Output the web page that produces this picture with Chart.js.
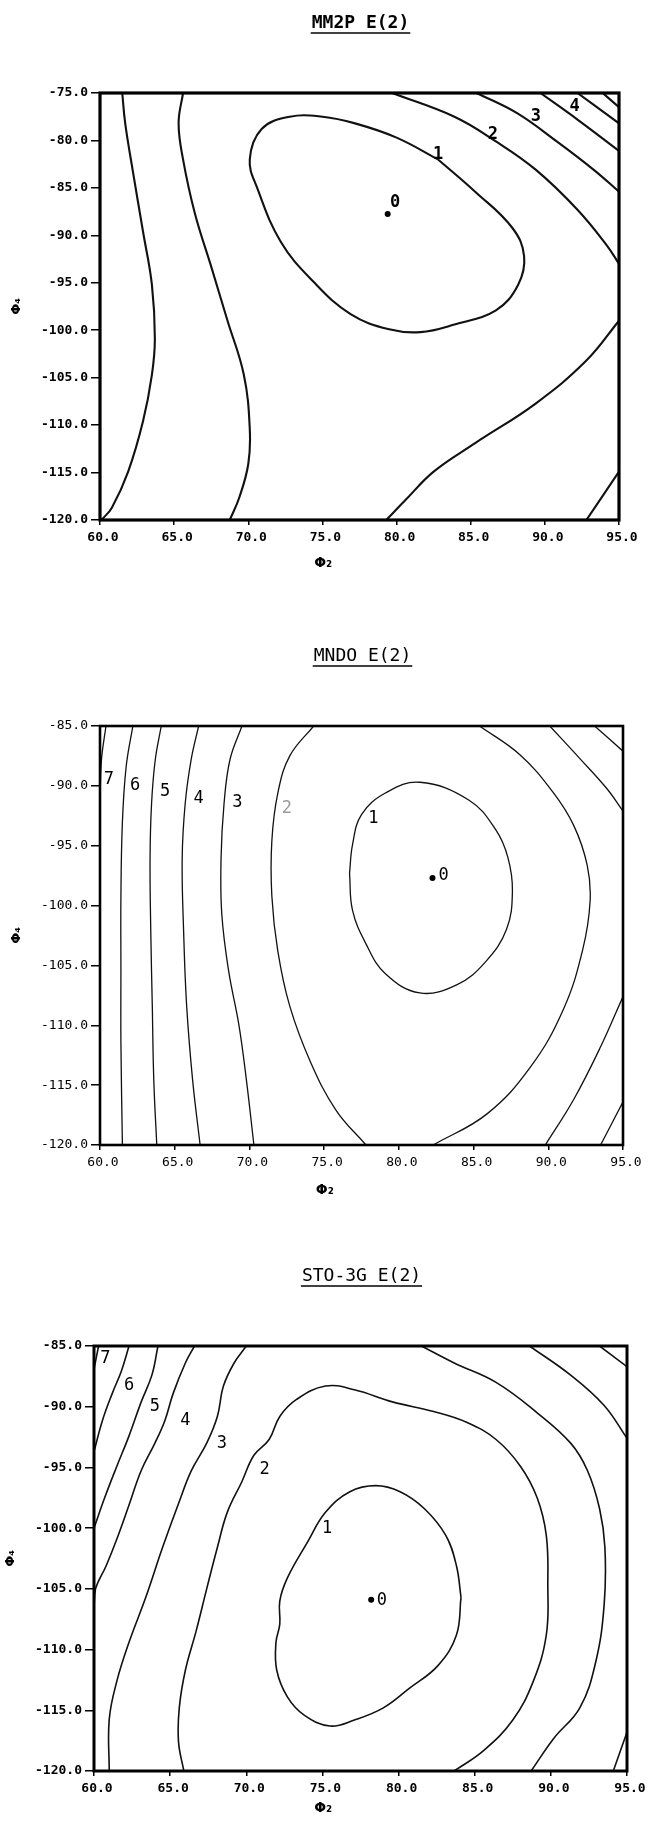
<!DOCTYPE html>
<html>
<head>
<meta charset="utf-8">
<script src="https://cdn.jsdelivr.net/npm/chart.js@4.4.1/dist/chart.umd.min.js"></script>
<style>
body { margin: 0; background: #fff; }
#wrap { position: relative; width: 648px; height: 1822px; }
canvas { position: absolute; left: 0; }
</style>
</head>
<body>
<div id="wrap">
  <canvas id="mm2p" width="648" height="600" style="top:0px"></canvas>
  <canvas id="mndo" width="648" height="610" style="top:600px"></canvas>
  <canvas id="sto" width="648" height="612" style="top:1210px"></canvas>
</div>
<script>
// tick values
const xTicks = [60, 65, 70, 75, 80, 85, 90, 95];
const yTicksMm2p = [-75, -80, -85, -90, -95, -100, -105, -110, -115, -120];
const yTicksLow = [-85, -90, -95, -100, -105, -110, -115, -120];

// MM2P E(2) contours [phi2, phi4]
const mm2p1 = [[82.8,-82.0],[80.0,-79.7],[77.2,-78.2],[75.0,-77.5],[72.8,-77.5],[70.9,-78.8],[70.1,-82.0],[70.6,-85.0],[72.2,-90.7],[74.4,-94.9],[76.9,-98.3],[79.5,-99.9],[81.6,-100.2],[83.9,-99.4],[86.7,-97.9],[88.2,-95.2],[88.6,-92.2],[87.8,-89.2],[85.3,-85.4],[82.8,-82.0]];
const mm2p2a = [[79.7,-75],[83.9,-77.5],[86.7,-80.1],[89.4,-83.1],[92.2,-87.3],[94.2,-91.1],[95,-93.0]];
const mm2p2b = [[95,-99.0],[92.8,-103.2],[89.4,-107.7],[85.3,-111.9],[82.5,-114.9],[80.6,-117.9],[79.3,-120]];
const mm2p3 = [[85.4,-75],[88.1,-77.1],[90.8,-80.1],[93.3,-83.1],[95,-85.4]];
const mm2p4 = [[89.7,-75],[92.2,-77.8],[95,-81.1]];
const mm2p5 = [[92.2,-75],[95,-78.2]];
const mm2p6 = [[93.9,-75],[95,-76.5]];
const mm2pCorner = [[95,-114.9],[92.8,-120]];
const mm2pLeftA = [[61.5,-75],[61.7,-78.2],[62.2,-83.1],[62.9,-89.6],[63.5,-95.2],[63.7,-100.9],[63.5,-104.7],[62.9,-109.6],[61.9,-114.9],[60.8,-118.7],[60.1,-120]];
const mm2pLeftB = [[65.6,-75],[65.3,-78.2],[65.6,-82.0],[66.4,-87.7],[67.5,-93.3],[68.6,-99.0],[69.7,-104.7],[70.1,-110.4],[70.0,-114.1],[69.4,-117.6],[68.75,-120]];
const mm2pMin = [79.4, -87.75];
const mm2pLabels = [['0',79.9,-86.5],['1',82.8,-81.5],['2',86.5,-79.35],['3',89.4,-77.5],['4',92.0,-76.4]];

// MNDO E(2) contours
const mndo1 = [[76.7,-97.3],[76.9,-100.4],[77.8,-103.2],[79.1,-105.7],[81.4,-107.3],[83.9,-106.6],[85.8,-104.7],[87.2,-102.0],[87.6,-98.8],[87.3,-96.0],[86.5,-93.7],[84.7,-91.2],[81.4,-89.7],[79.1,-90.6],[77.5,-92.4],[76.9,-94.9],[76.7,-97.3]];
const mndo2a = [[74.3,-85],[72.7,-87.5],[71.9,-90.6],[71.5,-94.6],[71.5,-99.2],[71.9,-103.8],[72.7,-108.4],[74.1,-113.1],[75.8,-117.1],[77.8,-120]];
const mndo2b = [[85.4,-85],[88.1,-87.4],[90.3,-90.5],[91.7,-93.3],[92.6,-96.6],[92.8,-99.6],[92.3,-103.7],[91.0,-108.7],[88.8,-113.5],[85.9,-117.4],[82.3,-120]];
const mndoTopB = [[90.1,-85],[92.1,-87.7],[93.9,-90.2],[95,-92.1]];
const mndoTopC = [[93.1,-85],[95,-87.1]];
const mndoLowD = [[95,-107.6],[93.5,-111.8],[91.7,-116.2],[89.8,-120]];
const mndoLowE = [[95,-116.4],[93.5,-120]];
const mndo3 = [[69.5,-85],[68.7,-87.8],[68.3,-91.5],[68.1,-96.1],[68.15,-100.7],[68.6,-105.4],[69.3,-110.0],[69.8,-114.6],[70.3,-120]];
const mndo4 = [[66.6,-85],[66.1,-87.8],[65.7,-91.5],[65.5,-96.1],[65.6,-102.3],[65.8,-108.4],[66.2,-114.6],[66.7,-120]];
const mndo5 = [[64.1,-85],[63.7,-87.8],[63.45,-91.5],[63.35,-96.1],[63.4,-102.3],[63.5,-108.4],[63.6,-114.6],[63.8,-120]];
const mndo6 = [[62.2,-85],[61.75,-88.4],[61.5,-93.0],[61.4,-99.2],[61.4,-105.4],[61.4,-111.5],[61.5,-120]];
const mndo7 = [[60.4,-85],[60.1,-87.8],[60.0,-91.3]];
const mndoMin = [82.25, -97.7];
const mndoLabels = [['7',60.6,-89.5],['6',62.35,-90.0],['5',64.35,-90.5],['4',66.6,-91.1],['3',69.2,-91.4],['2',72.5,-91.9],['1',78.3,-92.7],['0',83.0,-97.5]];

// STO-3G E(2) contours
const sto1 = [[84.1,-105.7],[83.8,-108.8],[82.6,-111.3],[80.7,-113.2],[79.0,-114.8],[77.1,-115.8],[75.5,-116.3],[73.8,-115.4],[72.7,-113.9],[72.0,-111.7],[71.95,-109.4],[72.2,-107.9],[72.2,-106.0],[72.7,-104.1],[74.0,-101.2],[75.2,-98.7],[76.8,-97.0],[78.5,-96.5],[80.1,-97.0],[81.7,-98.4],[83.1,-100.6],[83.8,-103.1],[84.1,-105.7]];
const sto2 = [[65.9,-120],[65.55,-117.6],[65.6,-114.8],[66.0,-111.7],[66.7,-108.5],[67.4,-105.0],[68.1,-101.6],[68.75,-98.7],[69.7,-96.2],[70.5,-94.0],[71.5,-92.7],[72.2,-90.8],[73.3,-89.4],[75.2,-88.3],[77.1,-88.6],[79.6,-89.6],[82.3,-90.4],[84.5,-91.3],[86.4,-92.7],[88.0,-94.9],[89.1,-97.5],[89.7,-100.6],[89.8,-104.7],[89.7,-108.8],[88.85,-112.6],[87.5,-115.8],[85.6,-118.3],[83.65,-120]];
const sto3a = [[70.0,-85],[69.2,-86.4],[68.5,-88.3],[68.1,-90.8],[67.4,-93.0],[66.4,-95.25],[65.6,-97.8],[64.5,-101.6],[63.4,-105.7],[62.3,-109.4],[61.5,-112.6],[61.0,-115.75],[61.0,-120]];
const sto3b = [[81.5,-85],[83.65,-86.4],[86.4,-88.0],[89.1,-90.5],[91.3,-93.0],[92.4,-95.25],[93.2,-98.4],[93.55,-101.6],[93.5,-106.3],[92.95,-111.0],[91.9,-114.8],[90.2,-117.3],[88.7,-120]];
const sto4a = [[66.6,-85],[66.0,-86.4],[65.2,-88.9],[64.65,-91.15],[64.0,-93.0],[63.1,-95.25],[62.3,-98.1],[61.5,-100.9],[60.8,-103.1],[60.1,-105.0],[60.0,-106.6]];
const sto4b = [[88.6,-85],[91.3,-87.4],[93.5,-89.9],[95,-92.6]];
const sto5 = [[64.2,-85],[63.8,-87.4],[63.1,-89.6],[62.3,-92.4],[61.5,-94.9],[60.7,-97.5],[60.0,-100.0]];
const sto6 = [[62.3,-85],[61.8,-87.05],[61.2,-88.9],[60.55,-91.15],[60.0,-93.7]];
const sto7 = [[60.3,-85],[60.0,-86.9]];
const stoCornerTop = [[93.2,-85],[95,-86.7]];
const stoCornerLow = [[95,-116.8],[94.1,-120]];
const stoMin = [78.2, -105.9];
const stoLabels = [['7',60.75,-86.0],['6',62.3,-88.25],['5',64.0,-90.0],['4',66.0,-91.15],['3',68.4,-93.0],['2',71.2,-95.2],['1',75.3,-100.0],['0',78.9,-106.0]];

// frame, titles and contour numbers
const deco = {
  id: 'deco',
  afterDatasetsDraw(chart, args, o) {
    const ctx = chart.ctx, a = chart.chartArea, xs = chart.scales.x, ys = chart.scales.y;
    ctx.save();
    ctx.strokeStyle = '#000';
    ctx.lineWidth = o.frame;
    ctx.strokeRect(a.left, a.top, a.right - a.left, a.bottom - a.top);

    ctx.textAlign = 'center';
    ctx.textBaseline = 'middle';
    ctx.font = o.labelFont;
    o.labels.forEach(l => {
      ctx.fillStyle = l[0] === o.faint ? '#9a9a9a' : '#000';
      ctx.fillText(l[0], xs.getPixelForValue(l[1]), ys.getPixelForValue(l[2]));
    });

    ctx.fillStyle = '#000';
    ctx.font = o.titleFont;
    const tx = (a.left + a.right) / 2 + 1, ty = a.top - 70;
    ctx.fillText(o.title, tx, ty);
    const w = ctx.measureText(o.title).width;
    ctx.lineWidth = 1.4;
    ctx.beginPath();
    ctx.moveTo(tx - w / 2 - 1, ty + 10);
    ctx.lineTo(tx + w / 2 + 1, ty + 10);
    ctx.stroke();

    ctx.font = 'bold 14px "DejaVu Sans"';
    ctx.fillText('Φ₂', a.left + 0.43 * (a.right - a.left), a.bottom + o.xGap);
    ctx.restore();
  }
};

function panel(id, c) {
  const datasets = c.lines.map(pts => ({
    data: pts.map(p => ({x: p[0], y: p[1]})),
    showLine: true,
    borderColor: '#111',
    borderWidth: c.lw,
    pointRadius: 0,
    tension: 0.4
  }));
  datasets.push({
    data: [{x: c.min[0], y: c.min[1]}],
    pointRadius: 3,
    pointBackgroundColor: '#000',
    pointBorderWidth: 0,
    showLine: false
  });
  const tickFont = {family: '"DejaVu Sans Mono"', size: 13, weight: c.fw};
  return new Chart(document.getElementById(id), {
    type: 'scatter',
    data: {datasets: datasets},
    options: {
      responsive: false,
      animation: false,
      layout: {padding: {top: c.top, right: c.right, left: 0, bottom: 0}},
      plugins: {
        legend: {display: false},
        tooltip: {enabled: false},
        deco: {frame: c.frame, labels: c.labels, labelFont: c.labelFont, title: c.title,
               titleFont: c.titleFont, xGap: c.xGap, faint: c.faint}
      },
      scales: {
        x: {
          type: 'linear', min: 60, max: 95,
          afterBuildTicks: s => { s.ticks = xTicks.map(v => ({value: v})); },
          afterFit: s => { s.height = c.xh; },
          grid: {drawOnChartArea: false, tickLength: 5, color: '#000', lineWidth: 1.5},
          border: {display: false},
          ticks: {color: '#000', font: tickFont, padding: 5, labelOffset: 3, maxRotation: 0,
                  autoSkip: false, callback: v => Number(v).toFixed(1)}
        },
        y: {
          type: 'linear', min: c.yTicks[c.yTicks.length - 1], max: c.yTicks[0],
          afterBuildTicks: s => { s.ticks = c.yTicks.map(v => ({value: v})); },
          afterFit: s => { s.width = c.left; },
          grid: {drawOnChartArea: false, tickLength: 9, color: '#000', lineWidth: 1.5},
          border: {display: false},
          ticks: {color: '#000', font: tickFont, padding: 3, autoSkip: false,
                  callback: v => Number(v).toFixed(1)},
          title: {display: true, text: 'Φ₄', color: '#000',
                  font: {family: '"DejaVu Sans"', size: 13, weight: 'bold'},
                  padding: {top: c.yPad, bottom: 0}}
        }
      }
    },
    plugins: [deco]
  });
}

panel('mm2p', {
  lines: [mm2p1, mm2p2a, mm2p2b, mm2p3, mm2p4, mm2p5, mm2p6, mm2pCorner, mm2pLeftA, mm2pLeftB],
  min: mm2pMin, labels: mm2pLabels, yTicks: yTicksMm2p,
  title: 'MM2P E(2)', titleFont: 'bold 18px "DejaVu Sans Mono"', labelFont: 'bold 17px "DejaVu Sans Mono"',
  lw: 2.1, frame: 3.2, fw: 'bold', top: 93, right: 29, left: 100, xh: 80, xGap: 43, yPad: 9
});

panel('mndo', {
  lines: [mndo1, mndo2a, mndo2b, mndoTopB, mndoTopC, mndoLowD, mndoLowE, mndo3, mndo4, mndo5, mndo6, mndo7],
  min: mndoMin, labels: mndoLabels, yTicks: yTicksLow, faint: '2',
  title: 'MNDO E(2)', titleFont: '18px "DejaVu Sans Mono"', labelFont: '17px "DejaVu Sans Mono"',
  lw: 1.3, frame: 2.6, fw: 'normal', top: 126, right: 25, left: 100, xh: 65, xGap: 45, yPad: 9
});

panel('sto', {
  lines: [sto1, sto2, sto3a, sto3b, sto4a, sto4b, sto5, sto6, sto7, stoCornerTop, stoCornerLow],
  min: stoMin, labels: stoLabels, yTicks: yTicksLow,
  title: 'STO-3G E(2)', titleFont: '18px "DejaVu Sans Mono"', labelFont: '17px "DejaVu Sans Mono"',
  lw: 1.6, frame: 3, fw: 'bold', top: 136, right: 21, left: 94, xh: 51, xGap: 37, yPad: 3
});
</script>
</body>
</html>
